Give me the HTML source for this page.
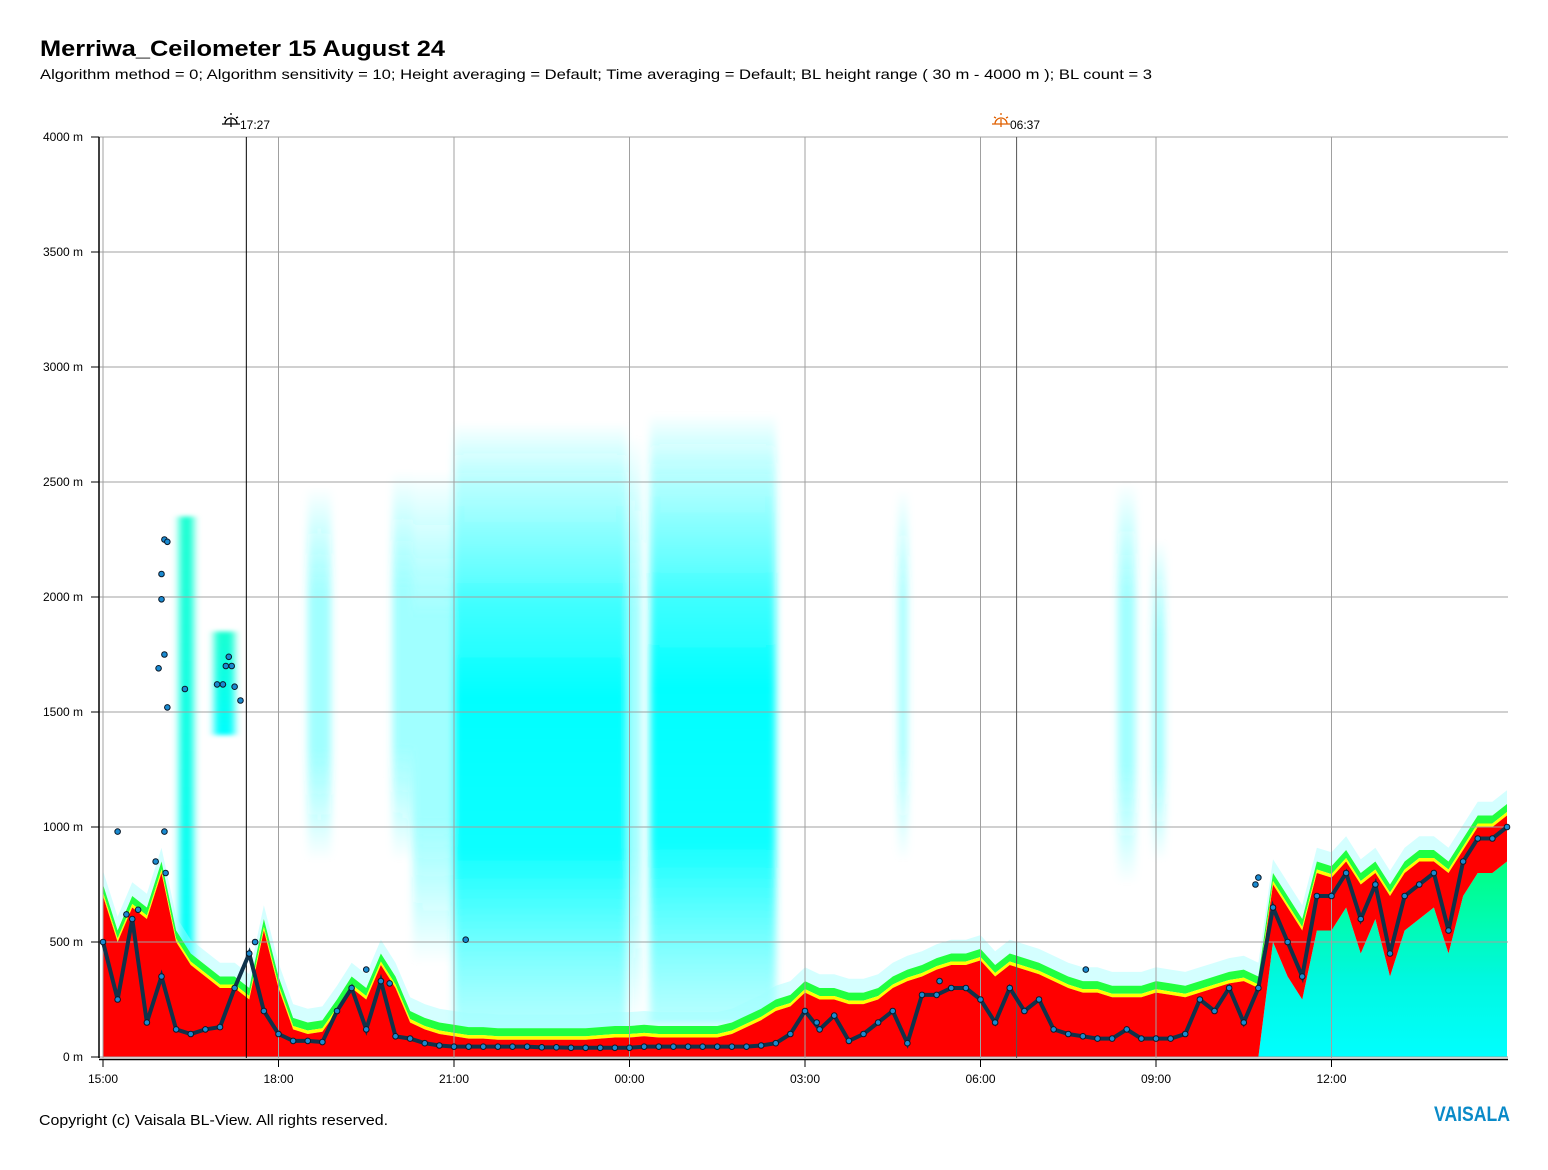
<!DOCTYPE html>
<html><head><meta charset="utf-8">
<style>
body{margin:0;background:#fff;width:1548px;height:1165px;overflow:hidden;font-family:"Liberation Sans",sans-serif;}
svg text{font-family:"Liberation Sans",sans-serif;}
</style></head>
<body>
<svg id="chart" width="1548" height="1165" xmlns="http://www.w3.org/2000/svg">
<defs>
<linearGradient id="cloudG" x1="0" y1="0" x2="0" y2="1">
<stop offset="0" stop-color="#00ffff" stop-opacity="0"/>
<stop offset="0.1" stop-color="#30ffff" stop-opacity="0.35"/>
<stop offset="0.3" stop-color="#10ffff" stop-opacity="0.8"/>
<stop offset="0.45" stop-color="#00ffff" stop-opacity="1"/>
<stop offset="0.7" stop-color="#00ffff" stop-opacity="0.95"/>
<stop offset="1" stop-color="#80ffff" stop-opacity="0.55"/>
</linearGradient>
<linearGradient id="faintG" x1="0" y1="0" x2="0" y2="1">
<stop offset="0" stop-color="#00ffff" stop-opacity="0"/>
<stop offset="0.3" stop-color="#40ffff" stop-opacity="0.5"/>
<stop offset="0.7" stop-color="#40ffff" stop-opacity="0.5"/>
<stop offset="1" stop-color="#00ffff" stop-opacity="0"/>
</linearGradient>
<linearGradient id="lowG" x1="0" y1="0" x2="0" y2="1">
<stop offset="0" stop-color="#00ffcc" stop-opacity="0.9"/>
<stop offset="1" stop-color="#00ffff" stop-opacity="1"/>
</linearGradient>
<linearGradient id="rightG" x1="0" y1="0" x2="0" y2="1">
<stop offset="0" stop-color="#00ff80"/>
<stop offset="0.6" stop-color="#00f8e0"/>
<stop offset="1" stop-color="#00ffff"/>
</linearGradient>
<filter id="blur" x="-20%" y="-5%" width="140%" height="110%"><feGaussianBlur stdDeviation="4 2"/></filter>
</defs>
<text x="40" y="56" font-size="22" font-weight="bold" textLength="405" lengthAdjust="spacingAndGlyphs">Merriwa_Ceilometer 15 August 24</text>
<text x="40" y="79" font-size="14" textLength="1112" lengthAdjust="spacingAndGlyphs">Algorithm method = 0; Algorithm sensitivity = 10; Height averaging = Default; Time averaging = Default; BL height range ( 30 m - 4000 m ); BL count = 3</text>
<g id="clouds" filter="url(#blur)"></g>
<g id="aerosol"></g>
<g id="grid"></g>
<g id="marks"></g>
<g id="axes"></g>
<text x="39" y="1125" font-size="15" textLength="349" lengthAdjust="spacingAndGlyphs">Copyright (c) Vaisala BL-View. All rights reserved.</text>
<text x="1434" y="1121" font-size="21" font-weight="bold" fill="#0a8ac8" textLength="76" lengthAdjust="spacingAndGlyphs">VAISALA</text>
</svg>
<script>
// hours since 15:00, step 0.25h
const blHeights=[500,250,600,150,350,120,100,120,130,300,450,200,100,70,70,65,200,300,120,330,90,80,60,50,45,
45,45,45,45,45,42,42,40,40,40,40,40,45,45,45,45,45,45,45,45,50,60,100,
200,120,180,70,100,150,200,60,270,270,300,300,250,150,300,200,250,120,100,90,80,80,120,80,80,80,100,250,200,300,150,300,
650,500,350,700,700,800,600,750,450,700,750,800,550,850,950,950,1000];
const redTop=[700,500,650,600,800,500,400,350,300,300,250,550,300,120,100,110,200,300,250,400,300,150,120,100,90,
80,80,75,75,75,75,75,75,75,80,85,85,90,85,85,85,85,85,100,130,160,200,220,
280,250,250,230,230,250,300,330,350,380,400,400,420,350,400,380,360,330,300,280,280,260,260,260,280,270,260,280,300,320,330,300,
750,650,550,800,780,850,750,800,700,800,850,850,800,900,1000,1000,1050];
const redBot=[0,0,0,0,0,0,0,0,0,0,0,0,0,0,0,0,0,0,0,0,0,0,0,0,0,0,0,0,0,0,0,0,0,0,0,0,0,0,0,0,0,0,0,0,0,0,0,0,
0,0,0,0,0,0,0,0,0,0,0,0,0,0,0,0,0,0,0,0,0,0,0,0,0,0,0,0,0,0,0,0,
500,350,250,550,550,650,450,600,350,550,600,650,450,700,800,800,850];
const extraH=[1.05,1.1,1.0,1.0,1.05,1.1,0.95,1.95,2.05,2.1,2.15,2.2,2.25,2.35,1.05,0.25,1.4,6.2,0.9,1.07,19.7,19.75,0.4,0.6,2.6,4.5,4.9,12.2,14.3,16.8];
const extraM=[2250,2240,2100,1990,1750,1520,1690,1620,1620,1700,1740,1700,1610,1550,980,980,1600,510,850,800,750,780,620,640,500,380,320,150,330,380];
// clouds: start h, end h, bottom m, top m, kind
const cloudStart=[3.5,4.95,5.3,6.0,8.95,9.35,13.6,17.35,17.95,1.3,1.9];
const cloudEnd=[3.9,5.3,6.0,8.95,9.2,11.5,13.75,17.65,18.15,1.55,2.25];
const cloudBot=[850,850,400,100,150,150,850,750,850,350,1400];
const cloudTop=[2480,2550,2550,2760,2700,2800,2470,2500,2250,2350,1850];
const cloudKind=[0,0,0,1,0,1,0,0,0,2,2];
const yTicks=[0,500,1000,1500,2000,2500,3000,3500,4000];
const xTickH=[0,3,6,9,12,15,18,21];
const xTickLab=["15:00","18:00","21:00","00:00","03:00","06:00","09:00","12:00"];

const NS="http://www.w3.org/2000/svg";
const X=h=>103+h*58.5, Y=m=>1057-m*0.23;
function mk(p,t,a){const e=document.createElementNS(NS,t);for(const k in a)e.setAttribute(k,a[k]);p.appendChild(e);return e;}
const gC=document.getElementById('clouds'),gA=document.getElementById('aerosol'),gG=document.getElementById('grid'),gM=document.getElementById('marks'),gX=document.getElementById('axes');
cloudStart.forEach((s,i)=>{
  const fill=cloudKind[i]==1?'url(#cloudG)':cloudKind[i]==2?'url(#lowG)':'url(#faintG)';
  const r=mk(gC,'rect',{x:X(s),y:Y(cloudTop[i]),width:X(cloudEnd[i])-X(s),height:Y(cloudBot[i])-Y(cloudTop[i]),fill:fill});
  
  
});
function band(lo,hi,color,op,name){
  let d='';const n=blHeights.length;
  for(let i=0;i<n;i++)d+=(i?'L':'M')+X(i*0.25)+' '+Y(hi(i));
  for(let i=n-1;i>=0;i--)d+='L'+X(i*0.25)+' '+Y(lo(i));
  const p=mk(gA,'path',{d:d+'Z',fill:color,'fill-opacity':op});
  
  
}
band(i=>0,i=>redBot[i],'url(#rightG)',1,'lower-aerosol');
band(i=>redTop[i]+50,i=>redTop[i]+110,'#a0ffff',0.45,'cyan-fringe');
band(i=>redTop[i]+15,i=>redTop[i]+50,'#20ff40',1,'green-band');
band(i=>redTop[i],i=>redTop[i]+15,'#ffff00',1,'yellow-band');
band(i=>redBot[i],i=>redTop[i],'#ff0000',1,'red-band');
// grid
yTicks.forEach(m=>{const l=mk(gG,'line',{x1:99,x2:1508,y1:Y(m),y2:Y(m),stroke:'#a0a0a0','stroke-width':1});

});
xTickH.forEach(h=>{const l=mk(gG,'line',{x1:X(h),x2:X(h),y1:137,y2:1058,stroke:'#a0a0a0','stroke-width':1});

});
const ss=mk(gG,'line',{x1:X(2.45),x2:X(2.45),y1:137,y2:1058,stroke:'#000','stroke-width':1});


const sr=mk(gG,'line',{x1:X(15.617),x2:X(15.617),y1:137,y2:1058,stroke:'#555','stroke-width':1});


// BL trace
let pts=blHeights.map((m,i)=>X(i*0.25)+','+Y(m)).join(' ');
const tr=mk(gM,'polyline',{points:pts,fill:'none',stroke:'#10324a','stroke-width':4});


blHeights.forEach((m,i)=>{const c=mk(gM,'circle',{cx:X(i*0.25),cy:Y(m),r:2.8,fill:'#1a8ad0',stroke:'#0a1a2a','stroke-width':1});

});
extraH.forEach((h,i)=>{const c=mk(gM,'circle',{cx:X(h),cy:Y(extraM[i]),r:2.8,fill:'#1a8ad0',stroke:'#0a1a2a','stroke-width':1});

});
// axes
const ya=mk(gX,'line',{x1:99,x2:99,y1:137,y2:1058,stroke:'#000','stroke-width':1.5});


const xa=mk(gX,'line',{x1:99,x2:1508,y1:1059.5,y2:1059.5,stroke:'#000','stroke-width':1.5});


yTicks.forEach(m=>{mk(gX,'line',{x1:91,x2:99,y1:Y(m),y2:Y(m),stroke:'#000'});
const t=mk(gX,'text',{x:83,y:Y(m)+4,'font-size':12,'text-anchor':'end'});t.textContent=m+' m';

});
xTickH.forEach((h,i)=>{mk(gX,'line',{x1:X(h),x2:X(h),y1:1060,y2:1067,stroke:'#000'});
const t=mk(gX,'text',{x:X(h),y:1083,'font-size':12,'text-anchor':'middle'});t.textContent=xTickLab[i];

});
// sun markers
function sun(x,color,label,name){
  const g=mk(gX,'g',{});
  
  
  mk(g,'path',{d:`M${x-6} 124 A6 6 0 0 1 ${x+6} 124 M${x-9} 124 L${x+9} 124 M${x} 113 L${x} 115 M${x-7} 117 L${x-5} 118 M${x+7} 117 L${x+5} 118 M${x} 119 L${x} 127`,stroke:color,'stroke-width':1.3,fill:'none'});
  const t=mk(g,'text',{x:x+9,y:129,'font-size':12});t.textContent=label;
}
sun(231,'#000','17:27','sunset-marker');
sun(1001,'#e06000','06:37','sunrise-marker');
</script>
</body></html>
